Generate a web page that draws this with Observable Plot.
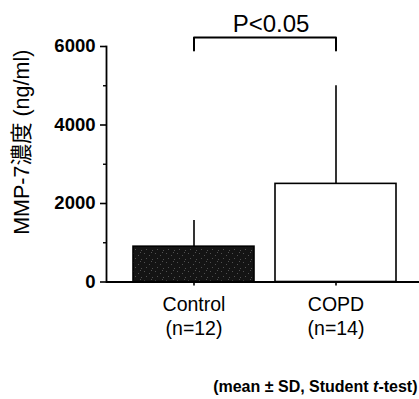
<!DOCTYPE html>
<html>
<head>
<meta charset="utf-8">
<script src="https://cdn.jsdelivr.net/npm/d3@7"></script>
<script src="https://cdn.jsdelivr.net/npm/@observablehq/plot@0.6"></script>
<style>
  html, body { margin: 0; padding: 0; background: #fff; }
  #chart svg { display: block; }
</style>
</head>
<body>
<div id="chart"></div>
<script>
// Serum MMP-7 concentration, mean ± SD per group
const groups = ["Control", "COPD"];
const sampleSizes = [12, 14];
const means = [900, 2500];
const sds = [670, 2500];
const barFills = ["url(#stipple)", "#ffffff"];

const yTicks = [0, 2000, 4000, 6000];
const yMinorTicks = [1000, 3000, 5000];
const yLabel = "MMP-7濃度 (ng/ml)";

// Significance bracket between the two groups
const bracketLevel = 6230;
const bracketDrop = 5900;
const pLabel = "P<0.05";
const pLabelLevel = 6560;

const footnote = ["(mean ± SD, Student ", "t", "-test)"];

const rows = groups.map((g, i) => ({
  group: g, n: sampleSizes[i], mean: means[i], sd: sds[i], fill: barFills[i]
}));
const bracket = [
  {group: groups[0], y: bracketDrop},
  {group: groups[0], y: bracketLevel},
  {group: groups[1], y: bracketLevel},
  {group: groups[1], y: bracketDrop}
];

const font = "'Liberation Sans', Arial, 'Noto Sans CJK JP', sans-serif";

const plot = Plot.plot({
  width: 419,
  height: 399,
  marginLeft: 106,
  marginRight: 0,
  marginTop: 46,
  marginBottom: 117.5,
  style: {fontFamily: font, color: "#000", background: "#fff"},
  x: {domain: groups, range: [133, 396], paddingInner: 0.148, paddingOuter: 0, axis: null},
  y: {domain: [0, 6000], axis: null},
  color: {type: "identity"},
  marks: [
    // bars
    Plot.barY(rows, {x: "group", y: "mean", fill: "fill", stroke: "#000", strokeWidth: 1.6}),
    // upper SD whiskers
    Plot.ruleX(rows, {x: "group", y1: "mean", y2: d => d.mean + d.sd, stroke: "#000", strokeWidth: 1.6}),
    // axes
    Plot.frame({anchor: "left", stroke: "#000", strokeWidth: 1.8}),
    Plot.ruleY([0], {stroke: "#000", strokeWidth: 1.8}),
    Plot.axisY({ticks: yTicks, tickSize: 6, tickPadding: 5, tickFormat: d3.format("d"), fontSize: 18.5, fontWeight: "bold", strokeWidth: 1.6, label: null}),
    Plot.axisY({ticks: yMinorTicks, tickSize: 3, text: null, strokeWidth: 1.4, label: null}),
    Plot.axisX({tickSize: 4, text: null, strokeWidth: 1.6, label: null}),
    // category labels
    Plot.text(rows, {
      x: "group",
      text: d => `${d.group}\n(n=${d.n})`,
      frameAnchor: "bottom",
      lineAnchor: "top",
      lineHeight: 1.23,
      dy: 12,
      fontSize: 19.5
    }),
    // y label
    Plot.text([yLabel], {frameAnchor: "left", textAnchor: "middle", lineAnchor: "middle", rotate: -90, dx: -84, dy: -22, fontSize: 21.5}),
    // significance bracket
    Plot.line(bracket, {x: "group", y: "y", stroke: "#000", strokeWidth: 2}),
    Plot.text([pLabel], {frameAnchor: "top", lineAnchor: "middle", y: () => pLabelLevel, dx: 8, fontSize: 24}),
    // footnote
    Plot.text([footnote.join("")], {frameAnchor: "bottom-right", textAnchor: "end", lineAnchor: "middle", dx: -2, dy: 104.5, fontSize: 16, fontWeight: "bold"})
  ]
});

// stippled dark fill for the control bar
const defs = d3.select(plot).insert("defs", ":first-child");
const pat = defs.append("pattern")
  .attr("id", "stipple")
  .attr("patternUnits", "userSpaceOnUse")
  .attr("width", 11).attr("height", 9);
pat.append("rect").attr("width", 11).attr("height", 9).attr("fill", "#141414");
[[1, 1], [6, 3], [3, 6], [9, 7], [8, 0]].forEach(([x, y]) =>
  pat.append("rect").attr("x", x).attr("y", y).attr("width", 1).attr("height", 1).attr("fill", "#505050"));

// italic t in "t-test"
d3.select(plot).selectAll("text")
  .filter(function() { return this.textContent === footnote.join(""); })
  .each(function() {
    const t = d3.select(this);
    t.text(null);
    t.append("tspan").text(footnote[0]);
    t.append("tspan").attr("font-style", "italic").text(footnote[1]);
    t.append("tspan").text(footnote[2]);
  });

document.getElementById("chart").appendChild(plot);
</script>
</body>
</html>
